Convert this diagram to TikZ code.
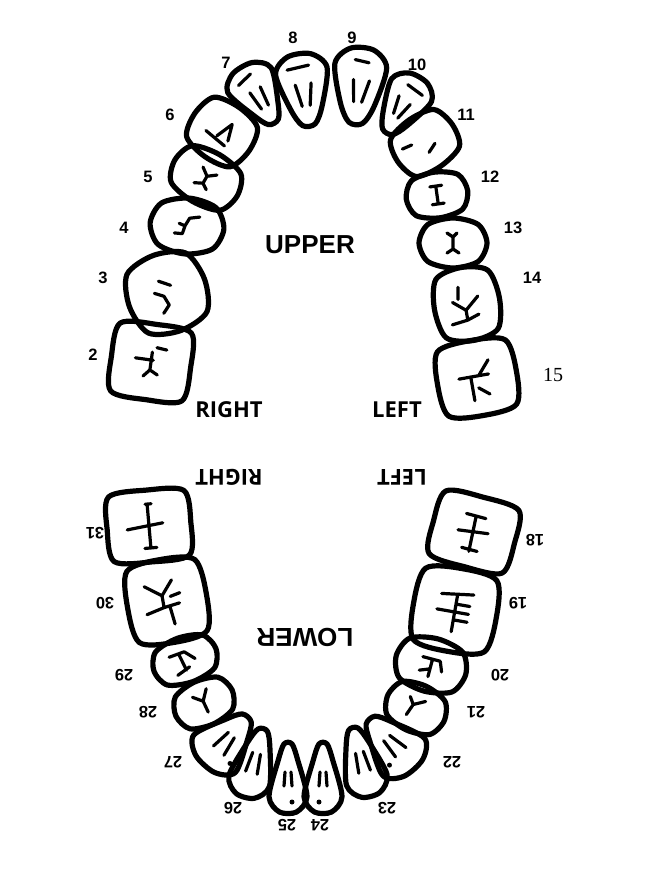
\documentclass[tikz,border=0pt]{standalone}
\usepackage{fontspec}
\setmainfont{Liberation Sans}
\newfontfamily\sidefont{Open Sans}
\newfontfamily\serifnum{Liberation Serif}

\tikzset{
  outline/.style={line width=5.2pt, line join=round},
  groove/.style={line width=3.2pt, line cap=round, line join=round},
  num/.style={font=\bfseries\fontsize{16.5}{16.5}\selectfont},
  side/.style={font=\sidefont\bfseries\fontsize{22}{22}\selectfont},
  jaw/.style={font=\bfseries\fontsize{26}{26}\selectfont}
}

% rounded tooth: x, y, turn, half width, half height, squareness, grooves
\newcommand{\tooth}[7]{%
  \begin{scope}[shift={(#1,#2)},rotate=#3]
    \draw[outline] plot[smooth cycle] coordinates {(#4,0) (#6*#4,#6*#5) (0,#5) (-#6*#4,#6*#5)
      (-#4,0) (-#6*#4,-#6*#5) (0,-#5) (#6*#4,-#6*#5)};
    #7
  \end{scope}}

% front tooth: x, y, turn, half width (wide end), half width (narrow end), half height, grooves
\newcommand{\incisor}[7]{%
  \begin{scope}[shift={(#1,#2)},rotate=#3]
    \draw[outline] plot[smooth cycle] coordinates {(-#4,-0.55*#6) (-0.45*#4,-#6) (0.45*#4,-#6) (#4,-0.55*#6)
      (#5,0.5*#6) (0.4*#5,#6) (-0.4*#5,#6) (-#5,0.5*#6)};
    #7
  \end{scope}}

\begin{document}
\begin{tikzpicture}[x=1pt,y=-1pt]
\useasboundingbox (0,0) rectangle (646,871);

% upper jaw
\tooth{151}{362}{-8}{40}{38}{0.9}{\draw[groove] (-16,-2) -- (2,-2) (0,-10) -- (0,8) -- (-6,15) (4,-15) -- (14,-14) (0,8) -- (8,12);}
\tooth{167}{293}{20}{40}{40}{0.78}{\draw[groove] (-4,-14) -- (6,-6) (-12,-4) -- (-4,2) -- (-2,12) -- (-10,18);}
\tooth{187}{226}{-5}{37}{28}{0.74}{\draw[groove] (-12,8) -- (-4,8) -- (-2,0) -- (2,-8) -- (12,-10) (-2,0) -- (-8,-2);}
\tooth{206}{178}{-30}{36}{27}{0.78}{\draw[groove] (-8,-8) -- (0,-2) -- (8,-8) (0,-2) -- (0,6) -- (-8,10) (0,6) -- (6,10);}
\tooth{222}{132}{-35}{33}{30}{0.8}{\draw[groove] (-14,8) -- (10,10) (-2,6) -- (4,-12) -- (10,4);}
\incisor{258}{95}{30}{25}{14}{31}{\draw[groove] (-12,-18) -- (4,-22) (-6,-6) -- (-4,14) (6,-6) -- (4,14);}
\incisor{304}{90}{8}{26}{16}{35}{\draw[groove] (-14,-22) -- (8,-24) (-8,-6) -- (-4,16) (8,-6) -- (4,16);}
\incisor{359}{86}{-5}{26}{17}{37}{\draw[groove] (-6,-26) -- (8,-24) (-6,-6) -- (-4,16) (10,-6) -- (4,16);}
\incisor{403}{105}{-30}{23}{14}{31}{\draw[groove] (-6,-20) -- (12,-18) (-8,-6) -- (-4,12) (6,-4) -- (2,14);}
\tooth{425}{143}{35}{33}{28}{0.8}{\draw[groove] (-22,-8) -- (-12,-6) (-2,10) -- (8,6);}
\tooth{437}{195}{8}{31}{23}{0.76}{\draw[groove] (-6,-9) -- (6,-9) (0,-9) -- (0,9) (-6,9) -- (6,9);}
\tooth{453}{243}{0}{34}{25}{0.74}{\draw[groove] (-6,-10) -- (0,-6) -- (4,-10) (0,-6) -- (0,6) (-6,10) -- (0,6) -- (6,10);}
\tooth{467}{304}{10}{33}{37}{0.8}{\draw[groove] (-6,-18) -- (-8,-6) (-14,-4) -- (-2,6) -- (12,-6) (-2,6) -- (-2,16) (-18,18) -- (-2,16) -- (10,12);}
\tooth{477}{378}{10}{40}{38}{0.86}{\draw[groove] (-18,-2) -- (12,-2) (2,-2) -- (14,-16) (-6,-2) -- (-6,22) (0,10) -- (10,18);}

% lower jaw
\tooth{149}{526}{5}{42}{36}{0.9}{\draw[groove] (-22,2) -- (14,-2) (-2,-22) -- (4,-22) (0,-22) -- (0,22) (-6,22) -- (6,22);}
\tooth{167}{601}{10}{40}{42}{0.86}{\draw[groove] (-20,-18) -- (-4,-6) -- (8,-20) (-4,-6) -- (-4,6) -- (-22,10) (-4,6) -- (12,4) (2,6) -- (4,24) (14,-6) -- (4,-4);}
\tooth{185}{660}{20}{33}{23}{0.76}{\draw[groove] (-14,-8) -- (2,-8) (-4,-8) -- (-2,10) (-12,12) -- (2,8) (2,-8) -- (10,2);}
\tooth{204}{703}{25}{31}{23}{0.76}{\draw[groove] (-8,-10) -- (0,-2) -- (8,-12) (0,-2) -- (0,10);}
\incisor{226}{741}{138}{28}{15}{31}{\draw[groove] (-8,-12) -- (-4,8) (6,-12) -- (4,8); \fill (-18,-14) circle (2.5pt);}
\incisor{254}{763}{165}{21}{12}{34}{\draw[groove] (-6,-10) -- (-4,10) (6,-10) -- (4,10);}
\incisor{288}{778}{180}{19}{10}{34}{\draw[groove] (-4,-8) -- (-3,6) (4,-8) -- (3,6); \fill (-4,-24) circle (2.5pt);}
\incisor{323}{778}{180}{19}{10}{34}{\draw[groove] (-4,-8) -- (-3,6) (4,-8) -- (3,6); \fill (4,-24) circle (2.5pt);}
\incisor{362}{762}{195}{21}{12}{34}{\draw[groove] (-6,-10) -- (-4,10) (6,-10) -- (4,10);}
\incisor{392}{744}{222}{28}{15}{32}{\draw[groove] (-8,-12) -- (-4,8) (6,-12) -- (4,8); \fill (16,-14) circle (2.5pt);}
\tooth{416}{708}{-25}{31}{24}{0.76}{\draw[groove] (-10,-8) -- (-4,-2) -- (-6,10) (-4,-2) -- (6,-10);}
\tooth{431}{665}{-15}{36}{27}{0.76}{\draw[groove] (-10,-6) -- (8,-6) (0,-6) -- (0,12) (0,4) -- (-10,8) (8,-6) -- (12,4);}
\tooth{455}{610}{-10}{42}{42}{0.86}{\draw[groove] (-16,-14) -- (16,-18) (0,-16) -- (0,22) (-18,2) -- (14,2) (0,-6) -- (14,-6) (0,10) -- (14,10);}
\tooth{474}{532}{-15}{42}{36}{0.9}{\draw[groove] (-12,-16) -- (8,-16) (-2,-16) -- (0,20) (-16,2) -- (14,-2) (-8,18) -- (8,18);}

% numbers
\node[num] (n2) at (93,355) {2};
\node[num] (n3) at (103,278) {3};
\node[num] (n4) at (124,228) {4};
\node[num] (n5) at (148,177) {5};
\node[num] (n6) at (170,115) {6};
\node[num] (n7) at (226,63) {7};
\node[num] (n8) at (293,38) {8};
\node[num] (n9) at (352,38) {9};
\node[num] (n10) at (417,65) {10};
\node[num] (n11) at (466,115) {11};
\node[num] (n12) at (490,177) {12};
\node[num] (n13) at (513,228) {13};
\node[num] (n14) at (532,278) {14};
\node[font=\serifnum\fontsize{20}{20}\selectfont] (n15) at (553,375) {15};

\node[num,rotate=180] (n18) at (535,540) {18};
\node[num,rotate=180] (n19) at (518,603) {19};
\node[num,rotate=180] (n20) at (500,675) {20};
\node[num,rotate=180] (n21) at (476,712) {21};
\node[num,rotate=180] (n22) at (452,762) {22};
\node[num,rotate=180] (n23) at (387,808) {23};
\node[num,rotate=180] (n24) at (320,825) {24};
\node[num,rotate=180] (n25) at (287,825) {25};
\node[num,rotate=180] (n26) at (233,808) {26};
\node[num,rotate=180] (n27) at (173,762) {27};
\node[num,rotate=180] (n28) at (148,712) {28};
\node[num,rotate=180] (n29) at (124,675) {29};
\node[num,rotate=180] (n30) at (105,603) {30};
\node[num,rotate=180] (n31) at (95,533) {31};

% words
\node[jaw] (upper) at (310,245) {UPPER};
\node[jaw,rotate=180] (lower) at (305,637) {LOWER};
\node[side] (rtop) at (229,410) {RIGHT};
\node[side] (ltop) at (397,410) {LEFT};
\node[side,rotate=180] (rbot) at (229,477) {RIGHT};
\node[side,rotate=180] (lbot) at (402,477) {LEFT};
\end{tikzpicture}
\end{document}
